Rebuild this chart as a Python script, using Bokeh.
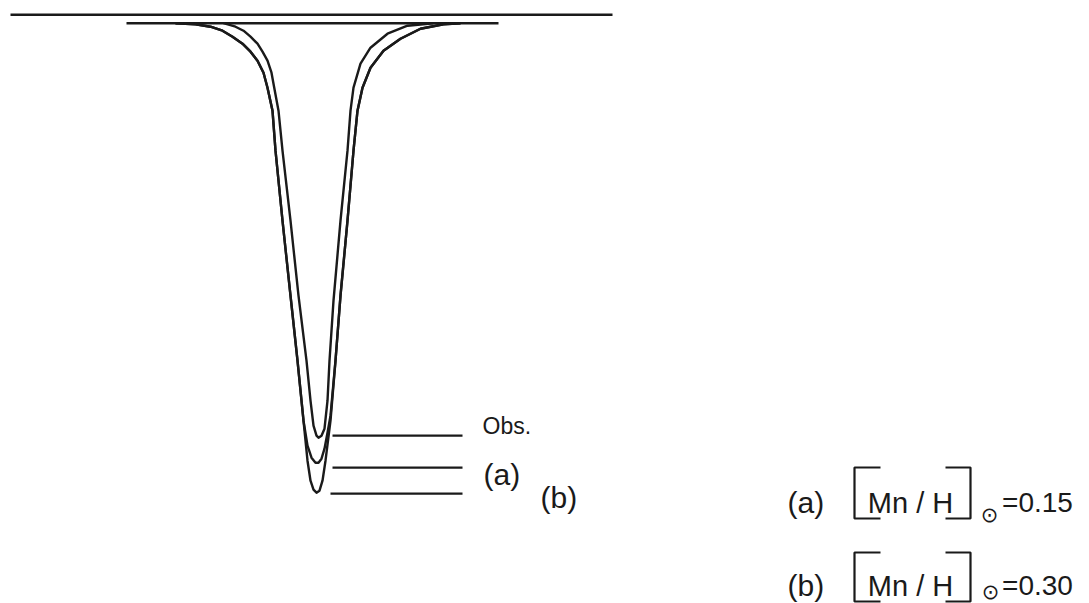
from bokeh.plotting import figure
from bokeh.models import Range1d
from bokeh.core.properties import value
from bokeh.embed import file_html
from bokeh.resources import INLINE

# Mn I line profile: wavelength offset (mA) and relative flux
obs_dl = [-92, -80, -72, -65, -58, -53, -48, -44, -42, -37, -33, -25, -17, -9, -5, -2, 1, 3,
          6, 9, 12, 14, 18, 25, 32, 35, 38, 45, 55, 72, 92, 118]
obs_flux = [1.000, 0.993, 0.985, 0.973, 0.959, 0.943, 0.925, 0.901, 0.879, 0.825, 0.745, 0.605,
            0.455, 0.325, 0.245, 0.195, 0.175, 0.171, 0.175, 0.189, 0.245, 0.325, 0.445, 0.605,
            0.745, 0.825, 0.871, 0.919, 0.951, 0.979, 0.995, 1.000]

# synthetic profile (a), [Mn/H] = 0.15
a_dl = [-140, -120, -105, -93, -83, -73, -65, -58, -52, -48, -43, -40, -33, -25, -18, -12, -8,
        -4, 0, 3, 6, 9, 12, 15, 20, 25, 32, 38, 42, 47, 55, 68, 85, 105, 128, 145]
a_flux = [1.000, 0.998, 0.993, 0.985, 0.973, 0.959, 0.943, 0.925, 0.901, 0.871, 0.825, 0.745,
          0.605, 0.455, 0.325, 0.205, 0.155, 0.131, 0.121, 0.121, 0.129, 0.149, 0.181, 0.215,
          0.325, 0.455, 0.605, 0.745, 0.825, 0.871, 0.911, 0.945, 0.969, 0.989, 0.998, 1.000]

# synthetic profile (b), [Mn/H] = 0.30
b_dl = [-140, -120, -105, -93, -83, -73, -65, -58, -52, -48, -43, -40, -33, -25, -18, -12, -8,
        -5, -2, 1, 4, 7, 10, 15, 20, 25, 32, 38, 42, 47, 55, 68, 85, 105, 128, 145]
b_flux = [1.000, 0.998, 0.993, 0.985, 0.973, 0.959, 0.943, 0.925, 0.901, 0.871, 0.825, 0.745,
          0.605, 0.455, 0.325, 0.205, 0.125, 0.085, 0.067, 0.061, 0.065, 0.085, 0.125, 0.205,
          0.325, 0.455, 0.605, 0.745, 0.825, 0.871, 0.911, 0.945, 0.969, 0.989, 0.998, 1.000]

# continuum levels
top_level = 1.017
continuum = 1.000

# core depth markers (flux level of each profile's centre)
marker_names = ["Obs.", "(a)", "(b)"]
marker_levels = [0.175, 0.111, 0.059]

# abundance key
key_labels = ["(a)", "(b)"]
key_values = ["=0.15", "=0.30"]

INK = "#1a1a1a"
FONT = value("Liberation Sans")

p = figure(width=1089, height=603, output_backend="svg", toolbar_location=None,
           x_range=Range1d(-315, 774), y_range=Range1d(-0.1606, 1.0454),
           x_axis_location=None, y_axis_location=None, min_border=0,
           background_fill_color="white", border_fill_color="white")
p.grid.visible = False
p.outline_line_color = None

# reference levels
p.line([-305, 297], [top_level, top_level], line_color=INK, line_width=2.6)
p.line([-189, 183], [continuum, continuum], line_color=INK, line_width=2.4)

# profiles
for xs, ys in ((obs_dl, obs_flux), (a_dl, a_flux), (b_dl, b_flux)):
    p.line(xs, ys, line_color=INK, line_width=2.4, line_join="round")

# depth markers with their labels
p.segment(x0=[17, 17, 15], y0=marker_levels, x1=[147, 147, 147], y1=marker_levels,
          line_color=INK, line_width=2.2)
p.text(x=[167], y=[0.1954], text=[marker_names[0]], text_font=FONT, text_font_size="23px",
       text_color=INK, text_baseline="alphabetic")
p.text(x=[168, 225], y=[0.0974, 0.0514], text=marker_names[1:], text_font=FONT,
       text_font_size="30px", text_color=INK, text_baseline="alphabetic")

# abundance key on the right
rows_y = [0.0414, -0.1246]
p.text(x=[472, 472], y=rows_y, text=key_labels, text_font=FONT, text_font_size="30px",
       text_color=INK, text_baseline="alphabetic")
p.text(x=[595, 595], y=rows_y, text=["Mn / H", "Mn / H"], text_font=FONT,
       text_font_size="29px", text_color=INK, text_baseline="alphabetic", text_align="center")
p.text(x=[722, 722], y=rows_y, text=key_values, text_font=FONT, text_font_size="28px",
       text_color=INK, text_baseline="alphabetic", text_align="center")
p.text(x=[674, 675], y=[0.0174, -0.1366], text=["\u2299", "\u2299"],
       text_font=value("DejaVu Sans"), text_font_size="21px", text_color=INK,
       text_baseline="middle", text_align="center")

# square brackets around Mn / H
br_top = [0.1114, -0.0586]
br_bot = [0.0094, -0.1566]
xs_br, ys_br = [], []
for t, b in zip(br_top, br_bot):
    xs_br.append([565, 539, 539, 565])
    ys_br.append([t, t, b, b])
    xs_br.append([630, 655, 655, 630])
    ys_br.append([t, t, b, b])
p.multi_line(xs_br, ys_br, line_color=INK, line_width=2.2)

open("out.html", "w").write(file_html(p, INLINE))
